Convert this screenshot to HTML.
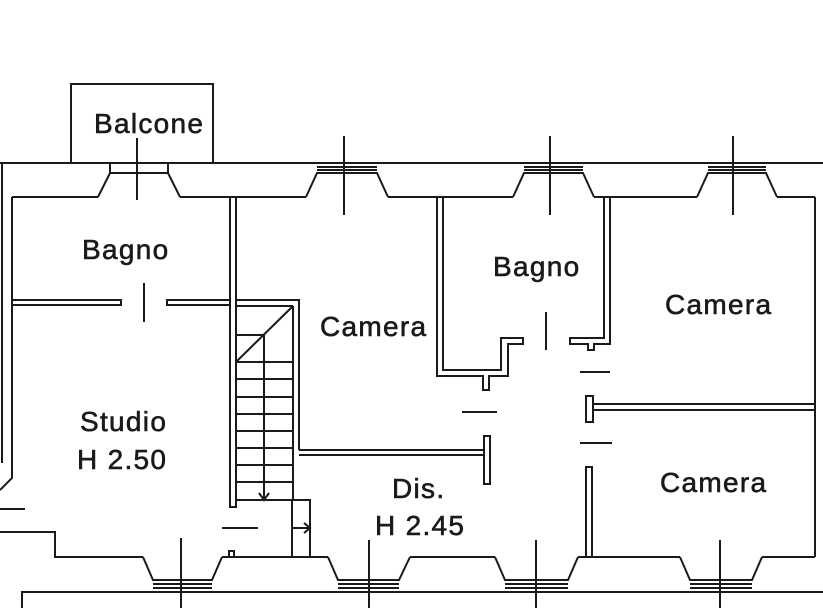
<!DOCTYPE html>
<html><head><meta charset="utf-8"><style>
html,body{margin:0;padding:0;background:#fff;}
svg{display:block;}
text{font-family:"Liberation Sans",Arial,sans-serif;font-size:28px;letter-spacing:1.3px;fill:#1a1a1a;stroke:#1a1a1a;stroke-width:0.6px;}
</style></head><body>
<svg width="823" height="608" viewBox="0 0 823 608" xmlns="http://www.w3.org/2000/svg">
<g stroke="#1a1a1a" stroke-width="2" fill="none">
<polyline points="71,163 71,84 213,84 213,163"/>
<line x1="0" y1="163" x2="823" y2="163"/>
<line x1="12" y1="197" x2="98" y2="197"/>
<line x1="180" y1="197" x2="306" y2="197"/>
<line x1="388" y1="197" x2="513" y2="197"/>
<line x1="594" y1="197" x2="697" y2="197"/>
<line x1="777" y1="197" x2="815" y2="197"/>
<polyline points="98,197 110,173 168,173 180,197"/>
<line x1="110" y1="163" x2="110" y2="173"/><line x1="168" y1="163" x2="168" y2="173"/>
<line x1="137" y1="138" x2="137" y2="200"/>
<polyline points="306,197 317,173 377,173 388,197"/>
<line x1="317" y1="167" x2="377" y2="167"/><line x1="317" y1="170" x2="377" y2="170"/>
<line x1="344" y1="136" x2="344" y2="215"/>
<polyline points="513,197 524,173 583,173 594,197"/>
<line x1="524" y1="167" x2="583" y2="167"/><line x1="524" y1="170" x2="583" y2="170"/>
<line x1="550" y1="136" x2="550" y2="215"/>
<polyline points="697,197 708,173 766,173 777,197"/>
<line x1="708" y1="167" x2="766" y2="167"/><line x1="708" y1="170" x2="766" y2="170"/>
<line x1="733" y1="136" x2="733" y2="215"/>
<line x1="2" y1="163" x2="2" y2="463"/>
<polyline points="12,197 12,478 0,490"/>
<line x1="0" y1="509" x2="25" y2="509"/>
<polyline points="0,532 55,532 55,557 143,557"/>
<rect x="12" y="300" width="109" height="5"/>
<rect x="167" y="300" width="63" height="5"/>
<line x1="144" y1="283" x2="144" y2="322"/>
<rect x="230" y="197" width="6" height="310"/>
<polyline points="236,300 299,300 299,450"/>
<line x1="293" y1="306" x2="293" y2="500"/>
<line x1="236" y1="306" x2="293" y2="306"/>
<line x1="236" y1="335" x2="264" y2="335"/>
<line x1="236" y1="362" x2="293" y2="306"/>
<line x1="236" y1="362" x2="293" y2="362"/>
<line x1="236" y1="379" x2="293" y2="379"/>
<line x1="236" y1="397" x2="293" y2="397"/>
<line x1="236" y1="414" x2="293" y2="414"/>
<line x1="236" y1="431" x2="293" y2="431"/>
<line x1="236" y1="448" x2="293" y2="448"/>
<line x1="236" y1="465" x2="293" y2="465"/>
<line x1="236" y1="482" x2="293" y2="482"/>
<line x1="236" y1="500" x2="293" y2="500"/>
<line x1="264" y1="335" x2="264" y2="500"/>
<polyline points="259,493 264,500 269,493"/>
<rect x="292" y="500" width="18" height="57"/>
<line x1="292" y1="528" x2="310" y2="528"/>
<polyline points="304,523 310,528 304,533"/>
<line x1="222" y1="528" x2="258" y2="528"/>
<rect x="229" y="551" width="5" height="6"/>
<polyline points="299,450 485,450"/>
<polyline points="299,455 485,455"/>
<rect x="484" y="436" width="6" height="48"/>
<polyline points="437,197 437,376 483,376 483,390 489,390 489,376 508,376 508,344 523,344 523,338 501,338 501,370 443,370 443,197"/>
<polyline points="604,197 604,338 570,338 570,344 588,344 588,350 594,350 594,344 610,344 610,197"/>
<line x1="546" y1="312" x2="546" y2="350"/>
<line x1="580" y1="372" x2="610" y2="372"/>
<line x1="462" y1="412" x2="497" y2="412"/>
<line x1="580" y1="443" x2="612" y2="443"/>
<rect x="586" y="396" width="7" height="26"/>
<line x1="593" y1="404" x2="815" y2="404"/>
<line x1="593" y1="410" x2="815" y2="410"/>
<rect x="586" y="467" width="6" height="90"/>
<line x1="815" y1="197" x2="815" y2="557"/>
<line x1="222" y1="557" x2="328" y2="557"/>
<line x1="410" y1="557" x2="495" y2="557"/>
<line x1="578" y1="557" x2="680" y2="557"/>
<line x1="762" y1="557" x2="815" y2="557"/>
<polyline points="143,557 153,580 212,580 222,557"/>
<line x1="153" y1="584" x2="212" y2="584"/><line x1="153" y1="588" x2="212" y2="588"/>
<line x1="181" y1="538" x2="181" y2="608"/>
<polyline points="328,557 338,580 399,580 410,557"/>
<line x1="338" y1="584" x2="399" y2="584"/><line x1="338" y1="588" x2="399" y2="588"/>
<line x1="369" y1="540" x2="369" y2="608"/>
<polyline points="495,557 505,580 568,580 578,557"/>
<line x1="505" y1="584" x2="568" y2="584"/><line x1="505" y1="588" x2="568" y2="588"/>
<line x1="536" y1="540" x2="536" y2="608"/>
<polyline points="680,557 690,580 752,580 762,557"/>
<line x1="690" y1="584" x2="752" y2="584"/><line x1="690" y1="588" x2="752" y2="588"/>
<line x1="720" y1="540" x2="720" y2="608"/>
<polyline points="22,608 22,592 823,592"/>
</g>
<text x="94" y="133">Balcone</text>
<text x="82" y="259">Bagno</text>
<text x="320" y="336">Camera</text>
<text x="493" y="276">Bagno</text>
<text x="665" y="314">Camera</text>
<text x="80" y="431">Studio</text>
<text x="77" y="469">H 2.50</text>
<text x="392" y="498">Dis.</text>
<text x="375" y="535">H 2.45</text>
<text x="660" y="492">Camera</text>
</svg>
</body></html>
